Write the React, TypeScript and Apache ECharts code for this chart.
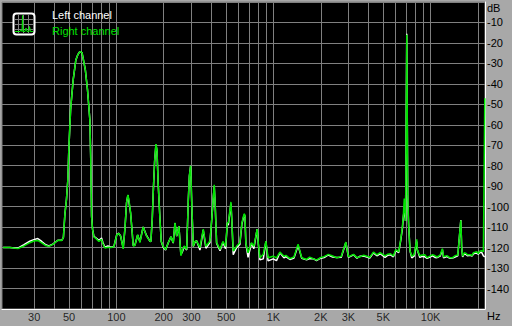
import React, { useEffect, useRef } from 'react';
import * as echarts from 'echarts';

// Frequencies (Hz) of the measured spectrum points
const freqs = [
  19, 21, 23.6, 25.8, 28.1, 29.8, 31.6, 33.5, 35.5, 37.2, 39.4, 42.4, 45, 46, 47, 48.1, 49.1, 49.8,
  51.1, 52.1, 53.1, 55.2, 56.8, 58, 59.2, 60.4, 61.2, 62.3, 63.4, 65.5, 67.8, 68.6, 69.5, 70.5,
  71.9, 74, 77.4, 80.5, 82, 84.5, 88.3, 92.3, 96.4, 100.7, 103.7, 106.4, 110.5, 113.3, 116.1,
  118.4, 120.1, 123.1, 126.1, 127.9, 131.2, 136.5, 141.2, 148.1, 155.7, 163.4, 165.8, 169.1,
  171.6, 175.1, 178.5, 181.2, 184.6, 189.4, 193, 198.6, 205.7, 213.9, 222.5, 230.1, 236, 242.1,
  250, 257.4, 264, 270.5, 280.2, 286.9, 291.5, 296.9, 302.3, 308.6, 316.2, 324.3, 340.2, 357.2,
  371.5, 394.1, 405.8, 413.9, 419.7, 425.9, 434.4, 456.8, 476.5, 495.6, 508.8, 516, 525.2,
  536.1, 544, 554.2, 582.5, 611.1, 629.2, 650, 658, 667, 689, 724, 750, 787, 801, 820, 861, 895,
  924, 996, 1045, 1099, 1166, 1200, 1272, 1350, 1434, 1513, 1625, 1700, 1790, 1880, 1979, 2100,
  2236, 2380, 2531, 2700, 2888, 3001, 3233, 3400, 3562, 3750, 3929, 4100, 4330, 4550, 4774,
  5130, 5350, 5558, 5800, 6000, 6270, 6457, 6612, 6713, 6800, 6930, 7054, 7158, 7260, 7404,
  7587, 7855, 8166, 8230, 8540, 8850, 9180, 9500, 9900, 10300, 10670, 11000, 11500, 11890,
  12100, 12700, 13290, 13800, 14300, 14900, 15580, 15780, 16000, 16400, 16800, 17150, 17950,
  18350, 18770, 19200, 19690, 20100, 20590, 21100, 21690, 22140,
];

// Right channel level (dB)
const rightDb = [
  -120, -120, -120.5, -119.2, -117.6, -116.8, -116.5, -117.7, -119, -119.4, -118.4, -116.4, -116.5, -115, -103.8, -96.5, -86.7, -72.1,
  -52.7, -45, -38, -28.3, -25.8, -24.6, -24.2, -24.8, -27, -30, -33, -43, -57.6, -75, -104.7, -111,
  -114.8, -115.5, -117, -116, -118, -120.2, -119.8, -120, -119.6, -113.7, -113, -114.4, -120.6, -111, -98,
  -94.2, -96.6, -102.8, -112.6, -119.2, -119, -113.7, -117.5, -109.9, -114.4, -116.8, -117, -106.3,
  -93.2, -78, -69.4, -72, -89, -106, -117, -119.4, -121, -117.6, -114.7, -117.6, -107.9, -114.4,
  -109.5, -124, -120.9, -119.2, -120.9, -97, -85, -80, -100, -119.4, -117, -116.8, -120, -111,
  -119.4, -116.8, -105, -95, -89.3, -100, -117.6, -120.9, -117, -119.4, -107.6, -108, -103,
  -97.7, -108, -121.7, -119.4, -117.6, -108, -103.5, -104, -118, -122.5, -117.6, -119.4, -111, -118, -125, -123.3, -116.9,
  -125, -124.2, -125, -122.2, -124.2, -123.8, -125.4, -124.6, -118.3, -125, -125.8, -124.7, -125.4, -126.1, -125, -124.4,
  -123.3, -124.1, -125, -124.3, -117.3, -124.5, -123.3, -124.9, -124.5, -123.7, -124.2, -124.8, -122.2, -123.5, -122.5,
  -124, -123.2, -123, -124.1, -121, -122, -116, -110, -104, -96, -107, -16, -94, -110.5, -121.7,
  -124.2, -123.5, -116, -121, -124, -123.6, -123.5, -124.9, -124.2, -123.4, -124, -124.6, -123.7, -120.5,
  -124.5, -123.9, -125, -124.9, -124, -123.6, -106.7, -120, -124.2, -122.5, -122.8, -123.5, -123.5,
  -123.9, -122.5, -122.3, -122, -122.9, -121.8, -121.5, -122, -47,
];

// Left channel level (dB)
const leftDb = [
  -120, -119.9, -120.3, -118.6, -116.9, -116.1, -115.6, -117, -118.6, -119.2, -118.3, -116.4, -116.4, -115, -103.8, -96.5, -86.7, -72.1,
  -52.7, -45, -38, -28.3, -25.8, -24.6, -24.2, -24.8, -27, -30, -33, -43, -57.6, -75, -104.7, -111,
  -114.5, -115.2, -116.4, -115.3, -117.5, -119.8, -119.2, -119.8, -119.5, -113.5, -113, -114.4, -120.3, -111, -98,
  -94.4, -97.5, -103, -112.6, -119, -118.8, -113.9, -117.2, -109.9, -114.2, -116.8, -117, -106.3,
  -93.2, -78, -69.6, -72.5, -89, -106, -117, -119.8, -121.2, -117.6, -114.7, -117.8, -108, -114.4,
  -109.5, -123.5, -121.8, -119.4, -121.2, -97, -85, -80, -100, -119.4, -117.4, -116.6, -121.2, -111.5,
  -120.3, -117.5, -105, -95.5, -90, -100, -117.8, -121.5, -117.5, -120.5, -108, -109, -104,
  -98.5, -108, -123.5, -120, -118.5, -108.5, -104, -104.5, -118, -124.8, -118, -120.5, -111, -118.5, -126, -125.5, -117,
  -126.5, -125.5, -126.4, -122.5, -125, -124.4, -125.8, -125.1, -119, -125.2, -126, -125.3, -125.4, -126.3, -125.3, -124.9,
  -123.6, -124.6, -124.8, -124.7, -117.5, -124.8, -123.5, -125.2, -124.2, -124.1, -124.6, -125.1, -122.6, -124, -123,
  -124.8, -123.7, -123.5, -124.5, -121.5, -122.5, -116.5, -111, -105, -101, -107, -15.5, -98, -110, -121.7,
  -125, -124.2, -117, -121, -124.8, -124.3, -124.5, -125.2, -124.6, -124, -124.8, -124.9, -124.2, -121,
  -125, -124.4, -125.2, -125.1, -124.6, -124, -106.5, -120, -124.5, -123, -123.4, -124, -123.8,
  -124.2, -123, -122.8, -122.8, -123.2, -122.5, -122.2, -124, -124.5,
];

// Frequency grid lines and labelled ticks
const gridFreqs = [30, 40, 50, 60, 70, 80, 90, 100, 200, 300, 400, 500, 600, 700, 800, 900,
  1000, 2000, 3000, 4000, 5000, 6000, 7000, 8000, 9000, 10000, 20000];
const tickFreqs = [30, 50, 100, 200, 300, 500, 1000, 2000, 3000, 5000, 10000];
const tickLabels = ['30', '50', '100', '200', '300', '500', '1K', '2K', '3K', '5K', '10K'];

const FONT = 'Liberation Sans';
const GREEN = '#00e400';

export default function App() {
  const ref = useRef<HTMLDivElement>(null);
  useEffect(() => {
    document.body.style.margin = '0';
    const chart = echarts.init(ref.current!, null, { renderer: 'svg' });
    const option: any = {
      animation: false,
      backgroundColor: '#a8a8a8',
      grid: {
        left: 2, right: 27, top: 2, bottom: 17, show: true,
        backgroundColor: '#000', borderColor: '#808080', borderWidth: 1,
      },
      xAxis: {
        type: 'log', logBase: 10, min: 18.7, max: 22200,
        axisLine: { show: true, onZero: false, lineStyle: { color: '#ffffff', width: 1 } },
        axisTick: { show: false }, axisLabel: { show: false }, splitLine: { show: false },
      },
      yAxis: {
        type: 'value', min: -150, max: 0, interval: 10, position: 'right',
        axisLine: { show: true, onZero: false, lineStyle: { color: '#ffffff', width: 1 } },
        axisTick: { show: false },
        axisLabel: {
          color: '#000', fontSize: 11, fontFamily: FONT, margin: 2, align: 'left',
          formatter: (v: number) => (v === 0 || v === -150 ? '' : String(v)),
        },
        splitLine: { lineStyle: { color: '#808080', width: 1 } },
      },
      series: [
        {
          type: 'line', data: [], silent: true, z: 1,
          markLine: {
            silent: true, symbol: 'none', z: 1, animation: false,
            label: { show: false },
            lineStyle: { color: '#808080', width: 1, type: 'solid' },
            emphasis: { disabled: true },
            data: gridFreqs.map((f) => ({ xAxis: f })),
          },
        },
        {
          type: 'scatter', silent: true, clip: false, symbolSize: 0,
          data: tickFreqs.map((f) => [f, -150]),
          label: {
            show: true, position: 'bottom', distance: 2, color: '#000', fontSize: 11, fontFamily: FONT,
            formatter: (p: any) => tickLabels[p.dataIndex],
          },
        },
        {
          type: 'line', name: 'Left channel', showSymbol: false, silent: true, z: 3,
          data: freqs.map((f, i) => [f, leftDb[i]]),
          lineStyle: { color: '#ffffff', width: 1.5 },
        },
        {
          type: 'line', name: 'Right channel', showSymbol: false, silent: true, z: 4,
          data: freqs.map((f, i) => [f, rightDb[i]]),
          lineStyle: { color: GREEN, width: 1.5 },
        },
      ],
      graphic: [
        { type: 'rect', z: 100, shape: { x: 13.5, y: 13.5, width: 21, height: 21, r: 3 },
          style: { fill: '#000', stroke: '#fff', lineWidth: 2 } },
        ...[18.5, 23.5, 28.5].map((x) => ({ type: 'line', z: 101, shape: { x1: x, y1: 15, x2: x, y2: 33 },
          style: { stroke: '#808080', lineWidth: 1 } })),
        ...[19.5, 24.5, 29.5].map((y) => ({ type: 'line', z: 101, shape: { x1: 15, y1: y, x2: 33, y2: y },
          style: { stroke: '#808080', lineWidth: 1 } })),
        { type: 'polyline', z: 102, shape: { points: [[15, 31.5], [20, 31.5], [21, 30], [22, 31.5], [22.5, 15.5], [23, 31.5], [25, 31.5], [26, 28], [27, 31.5], [29, 31.5], [29.5, 26.5], [30.5, 31.5], [33, 31.5]] },
          style: { stroke: GREEN, fill: 'none', lineWidth: 1 } },
        { type: 'text', z: 100, x: 52, y: 15, style: { text: 'Left channel', fill: '#fff', fontSize: 11, fontFamily: FONT, verticalAlign: 'middle' } },
        { type: 'text', z: 100, x: 52, y: 31, style: { text: 'Right channel', fill: GREEN, fontSize: 11, fontFamily: FONT, verticalAlign: 'middle' } },
        { type: 'text', z: 100, x: 487, y: 8, style: { text: 'dB', fill: '#000', fontSize: 11, fontFamily: FONT, verticalAlign: 'middle' } },
        { type: 'text', z: 100, x: 487, y: 316, style: { text: 'Hz', fill: '#000', fontSize: 11, fontFamily: FONT, verticalAlign: 'middle' } },
      ],
    };
    chart.setOption(option);
    return () => chart.dispose();
  }, []);
  return <div ref={ref} style={{ width: 512, height: 326 }} />;
}
